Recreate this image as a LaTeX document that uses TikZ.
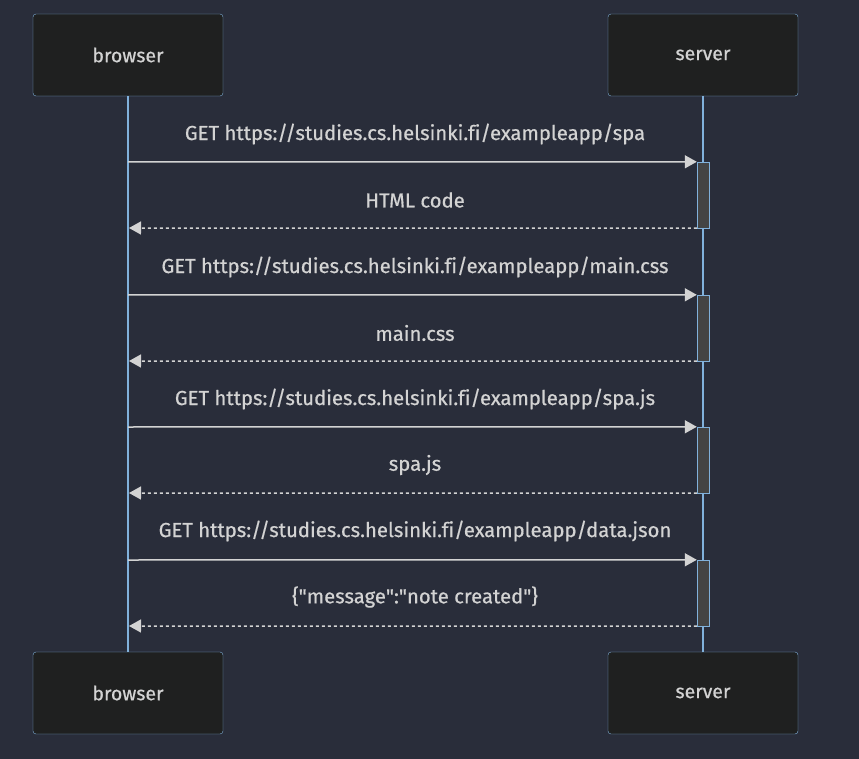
\documentclass[tikz,border=0pt]{standalone}
\usepackage{fontspec}
\setmainfont[Ligatures={NoCommon},FakeBold=0.6]{Fira Sans}
\usetikzlibrary{arrows.meta,positioning}

\definecolor{bgcol}{RGB}{41,45,58}
\definecolor{boxfill}{RGB}{31,32,32}
\definecolor{lineblue}{RGB}{129,177,219}
\definecolor{msgcol}{RGB}{211,211,211}
\definecolor{actfill}{RGB}{68,68,68}

\tikzset{
  actor/.style={draw=lineblue,fill=boxfill,rounded corners=3pt,minimum width=190pt,
    minimum height=82pt,text=msgcol,font=\fontsize{19.5}{23}\selectfont},
  life/.style={draw=lineblue,line width=2pt},
  activ/.style={draw=lineblue,fill=actfill,minimum width=12pt,minimum height=66pt,inner sep=0pt},
  msg/.style={draw=msgcol,line width=1.5pt,->,>={Triangle[length=12pt,width=13pt]}},
  reply/.style={msg,dash pattern=on 3pt off 3pt},
  lbl/.style={text=msgcol,font=\fontsize{20.3}{24}\selectfont}
}

\begin{document}
\begin{tikzpicture}[x=1pt,y=-1pt]
  \useasboundingbox[fill=bgcol] (0,0) rectangle (859,759);
  % participants
  \node[actor] (browser) at (128,55) {browser};
  \node[actor] (server) at (703,55) {server};
  \node[actor] (browserB) at (128,693) {browser};
  \node[actor] (serverB) at (703,693) {server};
  \draw[life] (browser) -- (browserB);
  \draw[life] (server) -- (serverB);
  % activations
  \node[activ] (act1) at (703,195) {};
  \node[activ] (act2) at (703,328) {};
  \node[activ] (act3) at (703,460) {};
  \node[activ] (act4) at (703,593) {};
  % browser side ends
  \coordinate (req1) at (128,162);
  \coordinate (res1) at (129,228);
  \coordinate (req2) at (128,295);
  \coordinate (res2) at (129,361);
  \coordinate (req3) at (128,427);
  \coordinate (res3) at (129,493);
  \coordinate (req4) at (128,560);
  \coordinate (res4) at (129,626);
  % messages
  \draw[msg] (req1) -- (act1.north west);
  \draw[reply] (act1.south west) -- (res1);
  \draw[msg] (req2) -- (act2.north west);
  \draw[reply] (act2.south west) -- (res2);
  \draw[msg] (req3) -- (act3.north west);
  \draw[reply] (act3.south west) -- (res3);
  \draw[msg] (req4) -- (act4.north west);
  \draw[reply] (act4.south west) -- (res4);
  % labels
  \node[lbl] (get1) at (415,134) {GET https://studies.cs.helsinki.fi/exampleapp/spa};
  \node[lbl] (ans1) at (415,200) {HTML code};
  \node[lbl] (get2) at (415,267) {GET https://studies.cs.helsinki.fi/exampleapp/main.css};
  \node[lbl] (ans2) at (415,333) {main.css};
  \node[lbl] (get3) at (415,399) {GET https://studies.cs.helsinki.fi/exampleapp/spa.js};
  \node[lbl] (ans3) at (415,465) {spa.js};
  \node[lbl] (get4) at (415,531) {GET https://studies.cs.helsinki.fi/exampleapp/data.json};
  \node[lbl] (ans4) at (415,597) {\{\textquotedbl message\textquotedbl:\textquotedbl note created\textquotedbl\}};
\end{tikzpicture}
\end{document}
